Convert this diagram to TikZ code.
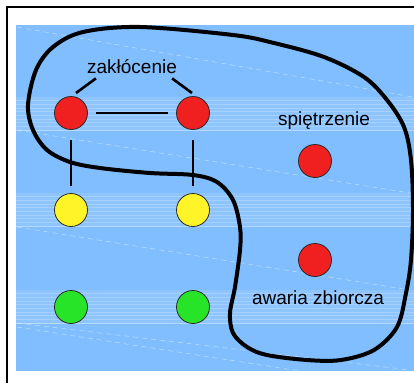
\documentclass[tikz,border=0pt]{standalone}
\usepackage{fontspec}
\setmainfont{Liberation Sans}
\usetikzlibrary{calc}
\definecolor{skyfill}{RGB}{128,190,255}
\definecolor{lampred}{RGB}{240,32,32}
\definecolor{lampyellow}{RGB}{255,244,40}
\definecolor{lampgreen}{RGB}{40,228,40}
\definecolor{rimgray}{RGB}{40,40,40}
\tikzset{
  lamp/.style={circle, draw=rimgray, line width=0.8pt, minimum size=33pt, inner sep=0pt},
  label text/.style={anchor=base, inner sep=0pt, font=\fontsize{19}{22}\selectfont},
  conn/.style={line width=2.6pt, black},
  band/.style={fill=white, opacity=0.12},
  streak/.style={white, opacity=0.2, line width=0.6pt},
  glint/.style={white, opacity=0.45, line width=0.6pt, dash pattern=on 5pt off 4pt},
  region/.style={line width=4pt, black, line join=round}
}
\begin{document}
\begin{tikzpicture}[x=1pt,y=-1pt]
\useasboundingbox (0,0) rectangle (414,383);
\fill[white] (0,0) rectangle (414,383);
% slide frame
\draw[line width=2pt] (7,383) -- (7,7) -- (414,7);
% background panel
\fill[skyfill] (16,25) rectangle (414,371);
% lighter horizontal bands with streaks
\foreach \t in {97,193,290}{
  \fill[band] (16,\t) rectangle (414,\t+34);
  \foreach \d in {3,7,11,14,18,22,25,29}{
    \draw[streak] (16,\t+\d) -- (414,\t+\d);
  }
  \draw[white, opacity=0.35, line width=1pt] (16,\t+33) -- (414,\t+33);
}
% faint dashed glints
\draw[glint] (17,27) -- (413,97);
\draw[glint] (17,130) -- (410,193);
\draw[glint] (17,227) -- (410,290);
\draw[glint] (17,323) -- (410,370);
\draw[glint] (17,327) -- (300,371);

% lamps
\node[lamp, fill=lampred]    (r1) at (71,113) {};
\node[lamp, fill=lampred]    (r2) at (193,113) {};
\node[lamp, fill=lampyellow] (y1) at (71,210) {};
\node[lamp, fill=lampyellow] (y2) at (193,210) {};
\node[lamp, fill=lampgreen]  (g1) at (71,307) {};
\node[lamp, fill=lampgreen]  (g2) at (193,307) {};
\node[lamp, fill=lampred]    (r3) at (315,161) {};
\node[lamp, fill=lampred]    (r4) at (315,260) {};

% labels
\node[label text] (lz) at (132,73) {zakłócenie};
\node[label text] (ls) at (324,125) {spiętrzenie};
\node[label text] (la) at (318,304) {awaria zbiorcza};

% connectors
\draw[conn] ($(lz.south west)+(9,5)$) -- ($(r1)+(5,-20)$);
\draw[conn] ($(lz.south east)+(-5,5)$) -- ($(r2)+(-1,-20)$);
\draw[conn, shorten <=8.5pt, shorten >=8.5pt] (r1) -- (r2);
\draw[conn, shorten <=10.5pt, shorten >=7.5pt] (r1.south) -- (y1.north);
\draw[conn, shorten <=10.5pt, shorten >=7.5pt] (r2.south) -- (y2.north);

% enclosing region
\draw[region] plot[smooth cycle, tension=0.55] coordinates {
  (28,105) (36,70) (53,47) (83,32) (140,27) (233,35) (274,43) (324,57)
  (364,77) (387,100) (404,127) (411,160) (413,210) (411,260) (406,293)
  (397,327) (374,350) (341,360) (307,360) (267,355) (247,347) (233,333)
  (230,313) (235,287) (240,250) (240,227) (233,200) (217,182) (193,175)
  (150,173) (100,168) (70,162) (47,150) (33,130)
};
\end{tikzpicture}
\end{document}
